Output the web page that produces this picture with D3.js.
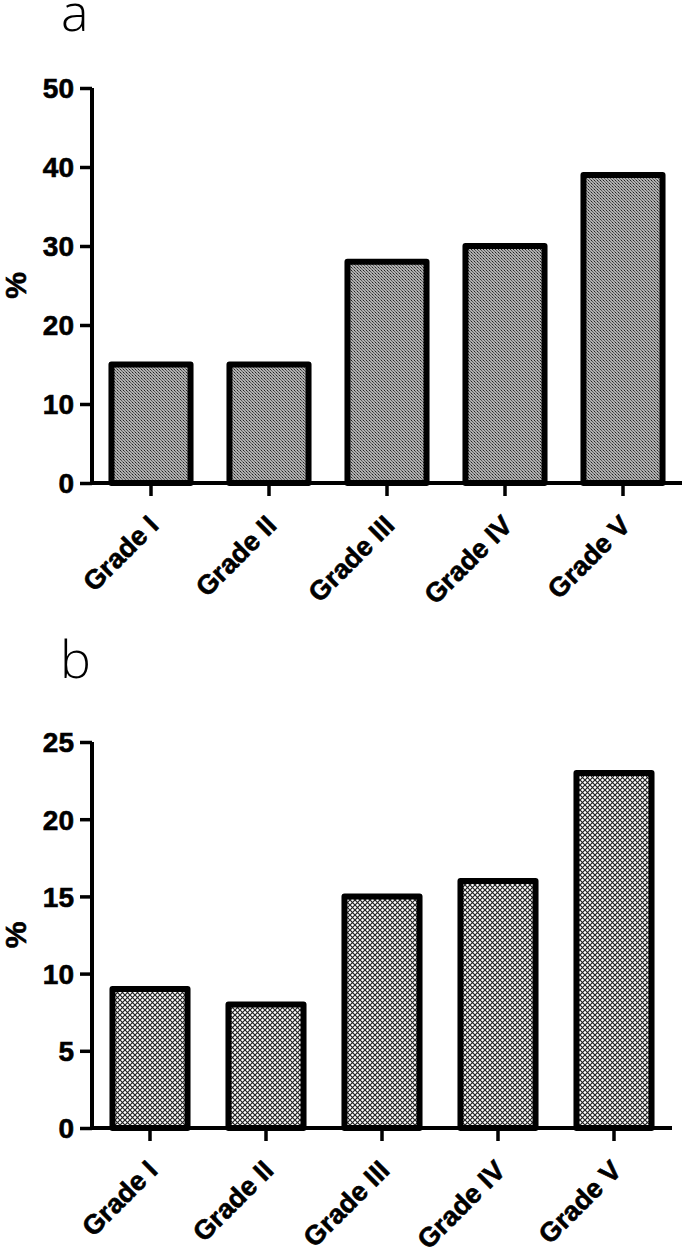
<!DOCTYPE html>
<html><head><meta charset="utf-8">
<script src="https://cdn.jsdelivr.net/npm/d3@7"></script>
<style>body{margin:0;background:#fff}svg{display:block}</style>
</head><body>
<script>
const categories = ["Grade I","Grade II","Grade III","Grade IV","Grade V"];
const valuesA = [15, 15, 28, 30, 39];
const valuesB = [9, 8, 15, 16, 23];
const ticksA = [0, 10, 20, 30, 40, 50];
const ticksB = [0, 5, 10, 15, 20, 25];

const svg = d3.select("body").append("svg").attr("width", 685).attr("height", 1252);
const defs = svg.append("defs");
// pattern a: fine dotted grey
const pa = defs.append("pattern").attr("id","patA").attr("patternUnits","userSpaceOnUse").attr("width",3).attr("height",3);
pa.append("rect").attr("width",3).attr("height",3).attr("fill","#b0b0b0");
pa.append("rect").attr("width",1).attr("height",1).attr("fill","#222");
pa.append("rect").attr("x",1).attr("y",1).attr("width",1).attr("height",1).attr("fill","#555");
pa.append("rect").attr("x",2).attr("y",2).attr("width",1).attr("height",1).attr("fill","#666");
// pattern b: cross-hatch
const pb = defs.append("pattern").attr("id","patB").attr("patternUnits","userSpaceOnUse").attr("width",5).attr("height",5);
pb.append("rect").attr("width",5).attr("height",5).attr("fill","#ffffff");
pb.append("path").attr("d","M0,0L5,5M5,0L0,5").attr("stroke","#222").attr("stroke-width",1.2);

const fontBold = "Liberation Sans, Arial, sans-serif";
function panel(cfg){
  const g = svg.append("g");
  const x = d3.scaleBand().domain(categories).range([cfg.x0, cfg.x1]).paddingInner(cfg.pad).paddingOuter(cfg.pad/2);
  const y = d3.scaleLinear().domain([0, cfg.max]).range([cfg.yb, cfg.yt]);
  g.selectAll("rect.bar").data(cfg.values).join("rect").attr("class","bar")
    .attr("x",(d,i)=>x(categories[i])).attr("width",x.bandwidth())
    .attr("y",d=>y(d)).attr("height",d=>y(0)-y(d))
    .attr("fill",`url(#${cfg.pat})`).attr("stroke","#000").attr("stroke-width",6).attr("stroke-linejoin","round");
  // y axis
  const ya = g.append("g").attr("transform",`translate(${cfg.x0},0)`)
    .call(d3.axisLeft(y).tickValues(cfg.ticks).tickSize(12).tickSizeOuter(0).tickPadding(6));
  ya.select(".domain").attr("stroke","#000").attr("stroke-width",4).attr("d",`M0,${cfg.yb+2}V${cfg.yt}`);
  ya.selectAll(".tick line").attr("stroke","#000").attr("stroke-width",3.5);
  ya.selectAll(".tick text").attr("font-family",fontBold).attr("font-weight","bold").attr("font-size",28)
    .attr("fill","#000").attr("stroke","#000").attr("stroke-width",0.6).attr("dy","0.35em");
  // x axis
  const xa = g.append("g").attr("transform",`translate(0,${cfg.yb})`)
    .call(d3.axisBottom(x).tickSize(13).tickSizeOuter(0).tickFormat(""));
  xa.select(".domain").attr("stroke","#000").attr("stroke-width",4).attr("d",`M${cfg.x0-2},0H${cfg.x1}`);
  xa.selectAll(".tick line").attr("stroke","#000").attr("stroke-width",3.5);
  g.selectAll("text.xl").data(categories).join("text").attr("class","xl")
    .attr("transform",d=>`translate(${x(d)+x.bandwidth()/2+9},${cfg.yb+44}) rotate(-45)`)
    .attr("text-anchor","end")
    .attr("font-family",fontBold).attr("font-weight","bold").attr("font-size",27)
    .attr("stroke","#000").attr("stroke-width",0.6).text(d=>d);
  // y label
  g.append("text").attr("transform",`translate(26,${(cfg.yb+cfg.yt)/2}) rotate(-90)`)
    .attr("text-anchor","middle").attr("font-family",fontBold).attr("font-weight","bold").attr("font-size",30)
    .attr("stroke","#000").attr("stroke-width",0.6).text("%");
  // panel letter
  g.append("text").attr("x",cfg.lx).attr("y",cfg.ly).attr("font-family","Open Sans, Noto Sans, sans-serif").attr("font-weight",300).attr("font-size",52).text(cfg.letter);
}
panel({values:valuesA, ticks:ticksA, max:50, x0:92, x1:682, yt:88, yb:483, pad:0.33, pat:"patA", letter:"a", lx:61, ly:31});
panel({values:valuesB, ticks:ticksB, max:25, x0:92, x1:672, yt:742, yb:1128, pad:0.353, pat:"patB", letter:"b", lx:60, ly:678});
</script>
</body></html>
